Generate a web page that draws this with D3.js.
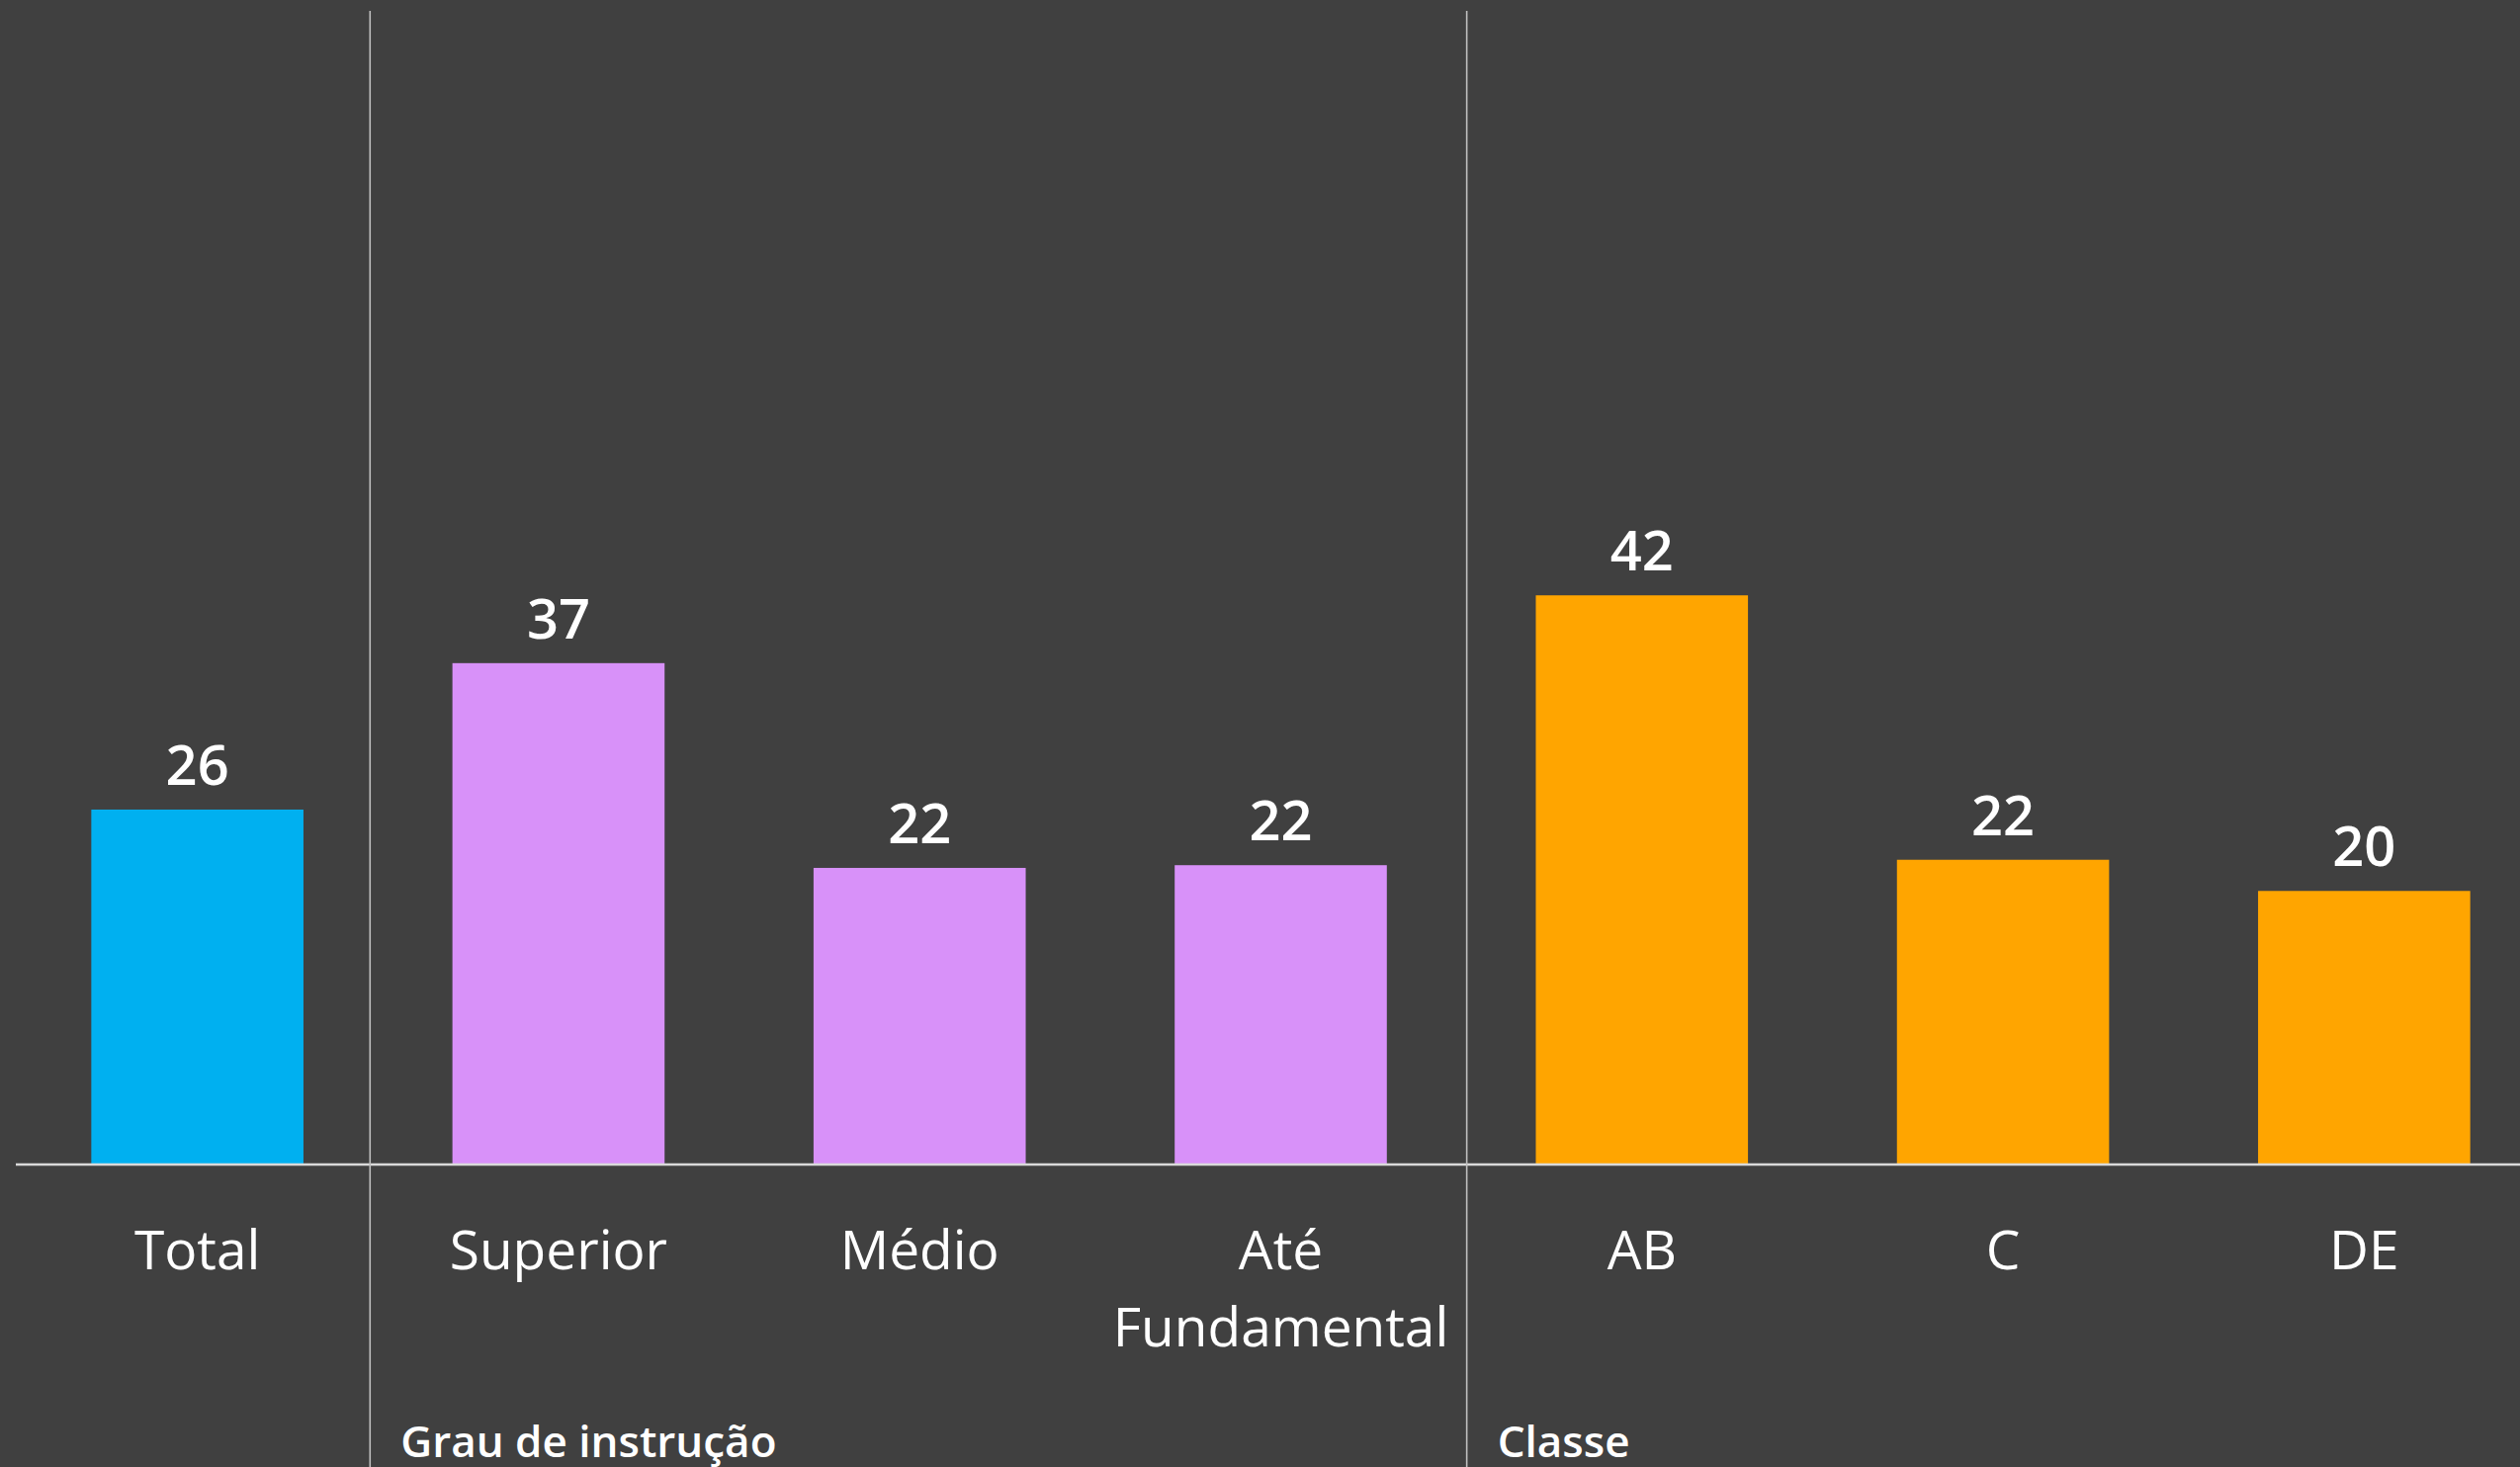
<!DOCTYPE html>
<html>
<head>
<meta charset="utf-8">
<script src="https://cdn.jsdelivr.net/npm/d3@7"></script>
<style>
  html, body { margin: 0; padding: 0; background: #404040; overflow: hidden; }
  svg { display: block; }
</style>
</head>
<body>
<svg id="chart" width="2549" height="1484"></svg>
<script>
// ---- data ----
const categories = ["Total", "Superior", "Médio", "Até\nFundamental", "AB", "C", "DE"];
const values = [26.1, 36.9, 21.8, 22.0, 41.9, 22.4, 20.1];
const categoryGroup = [0, 1, 1, 1, 2, 2, 2];
const groupNames = ["", "Grau de instrução", "Classe"];
const groupColors = ["#00B0F0", "#D891F9", "#FFA500"];

// ---- layout ----
const W = 2549, H = 1484;
const baseY = 1177, topY = 11;
const separatorShift = [-8, 5.5];
const font = "'Segoe UI', 'Open Sans', 'Noto Sans', sans-serif";

const svg = d3.select("#chart");
svg.append("rect").attr("width", W).attr("height", H).attr("fill", "#404040");

const x = d3.scaleBand()
  .domain(categories)
  .range([17, 2574])
  .paddingInner(0.4125)
  .paddingOuter(0.20625);

const y = d3.scaleLinear().domain([0, 85]).range([baseY, topY]);

// bars
svg.append("g").selectAll("rect")
  .data(categories)
  .join("rect")
  .attr("x", d => x(d))
  .attr("width", x.bandwidth())
  .attr("y", (d, i) => y(values[i]))
  .attr("height", (d, i) => y(0) - y(values[i]))
  .attr("fill", (d, i) => groupColors[categoryGroup[i]]);

// value labels
svg.append("g").selectAll("text")
  .data(categories)
  .join("text")
  .attr("x", d => x(d) + x.bandwidth() / 2)
  .attr("y", (d, i) => y(values[i]) - 25)
  .attr("text-anchor", "middle")
  .attr("font-family", font)
  .attr("font-weight", 600)
  .attr("font-size", 56)
  .attr("fill", "#ffffff")
  .text((d, i) => d3.format(".0f")(values[i]));

// axis baseline
svg.append("line")
  .attr("x1", 16).attr("x2", W)
  .attr("y1", y(0) + 1).attr("y2", y(0) + 1)
  .attr("stroke", "#d9d9d9").attr("stroke-width", 2.5);

// group separators
const sepXs = [];
categories.forEach((c, i) => {
  if (i > 0 && categoryGroup[i] !== categoryGroup[i - 1]) {
    const prev = categories[i - 1];
    const k = sepXs.length;
    sepXs.push({ x: (x(prev) + x.bandwidth() + x(c)) / 2 + separatorShift[k], g: categoryGroup[i] });
  }
});
svg.append("g").selectAll("line")
  .data(sepXs)
  .join("line")
  .attr("x1", d => d.x).attr("x2", d => d.x)
  .attr("y1", topY).attr("y2", H)
  .attr("stroke", "#bfbfbf").attr("stroke-width", 1.6);

// group labels
svg.append("g").selectAll("text")
  .data(sepXs)
  .join("text")
  .attr("x", d => d.x + 31)
  .attr("y", 1474)
  .attr("font-family", font)
  .attr("font-weight", 600)
  .attr("font-size", 44)
  .attr("fill", "#ffffff")
  .text(d => groupNames[d.g]);

// category labels
const catG = svg.append("g").selectAll("text")
  .data(categories)
  .join("text")
  .attr("x", d => x(d) + x.bandwidth() / 2)
  .attr("y", 1284)
  .attr("text-anchor", "middle")
  .attr("font-family", font)
  .attr("font-weight", 400)
  .attr("font-size", 55)
  .attr("fill", "#ffffff");
catG.selectAll("tspan")
  .data(d => d.split("\n").map((t, k) => ({ t, k, cx: x(d) + x.bandwidth() / 2 })))
  .join("tspan")
  .attr("x", d => d.cx)
  .attr("dy", d => d.k === 0 ? 0 : 78)
  .text(d => d.t);
</script>
</body>
</html>
